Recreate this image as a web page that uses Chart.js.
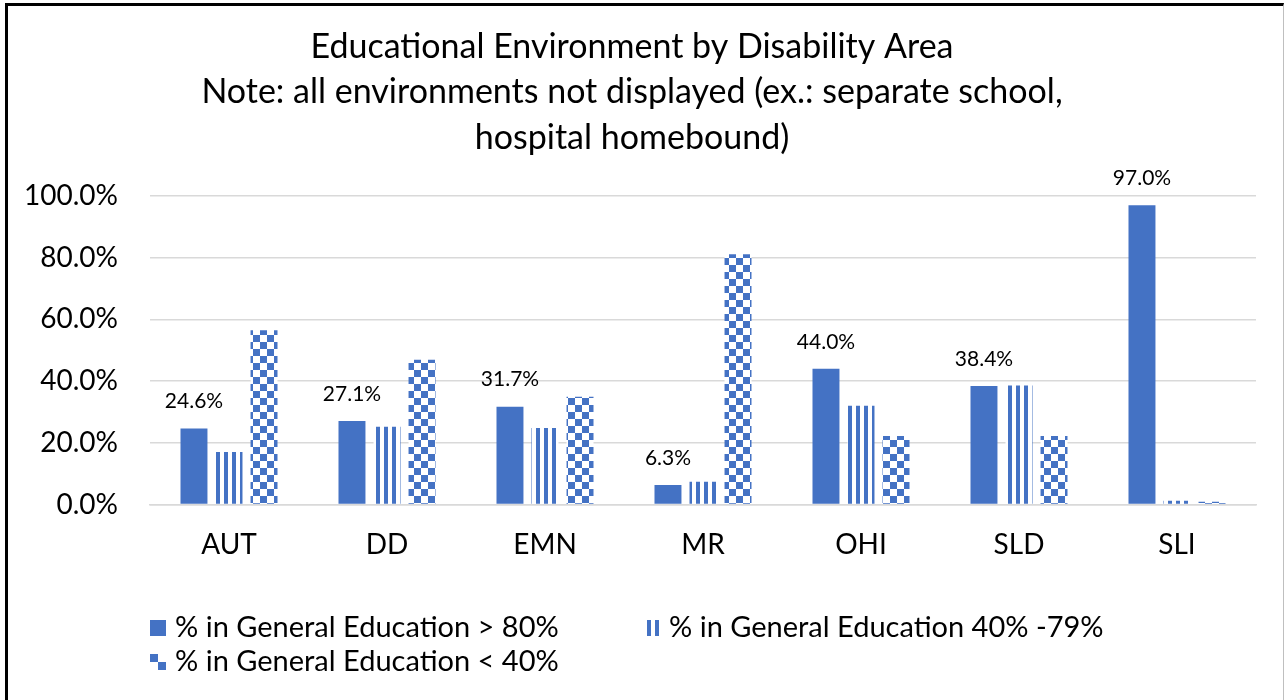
<!DOCTYPE html>
<html>
<head>
<meta charset="utf-8">
<script src="https://cdn.jsdelivr.net/npm/chart.js@4.4.1/dist/chart.umd.min.js"></script>
<style>
  html, body { margin: 0; padding: 0; background: #fff; overflow: hidden; }
  .chart-frame {
    position: absolute; left: 5px; top: 3px;
    width: 1275px; height: 720px;
    border-left: 3px solid #000; border-top: 3px solid #000; border-right: 1px solid #bfbfbf;
  }
  .chart-box { position: relative; width: 1275px; height: 694px; }
</style>
</head>
<body>
<div class="chart-frame">
  <div class="chart-box">
    <canvas id="envChart" aria-label="Educational Environment by Disability Area" role="img"></canvas>
  </div>
</div>
<script>
// data
const categories = ['AUT', 'DD', 'EMN', 'MR', 'OHI', 'SLD', 'SLI'];
const genEdOver80 = [24.6, 27.1, 31.7, 6.3, 44.0, 38.4, 97.0];
const genEd40to79 = [17.0, 25.2, 24.8, 7.4, 32.0, 38.6, 1.2];
const genEdUnder40 = [56.5, 46.9, 34.9, 81.1, 22.2, 22.2, 0.9];
const seriesNames = [
  '% in General Education > 80%',
  '% in General Education 40% -79%',
  '% in General Education < 40%'
];
const titleLines = [
  'Educational Environment by Disability Area',
  'Note: all environments not displayed (ex.: separate school,',
  'hospital homebound)'
];

const BLUE = '#4472C4';
const FONT = 'Lato, "Open Sans", sans-serif';

function stripePattern() {
  const c = document.createElement('canvas');
  c.width = 8; c.height = 8;
  const g = c.getContext('2d');
  g.fillStyle = '#fff'; g.fillRect(0, 0, 8, 8);
  g.fillStyle = BLUE; g.fillRect(0, 0, 4, 8);
  return g.createPattern(c, 'repeat');
}

function checkerPattern() {
  const c = document.createElement('canvas');
  c.width = 14; c.height = 14;
  const g = c.getContext('2d');
  g.fillStyle = '#fff'; g.fillRect(0, 0, 14, 14);
  g.fillStyle = BLUE;
  g.fillRect(0, 0, 7, 7);
  g.fillRect(7, 7, 7, 7);
  return g.createPattern(c, 'repeat');
}

const fmtPct = v => v.toFixed(1) + '%';

// value labels above the first series only
const valueLabels = {
  id: 'valueLabels',
  afterDatasetsDraw(chart) {
    const ctx = chart.ctx;
    const meta = chart.getDatasetMeta(0);
    ctx.save();
    ctx.font = '21px ' + FONT;
    ctx.fillStyle = '#000';
    ctx.textAlign = 'center';
    ctx.textBaseline = 'middle';
    meta.data.forEach((bar, i) => {
      ctx.fillText(fmtPct(genEdOver80[i]), bar.x, bar.y - 27);
    });
    ctx.restore();
  }
};

// Excel-style legend: two items on first row, third wraps, left aligned
const excelLegend = {
  id: 'excelLegend',
  afterDraw(chart) {
    const ctx = chart.ctx;
    const left = chart.chartArea.left;
    const rows = [
      { x: left, y: 622 },
      { x: left + 497, y: 622 },
      { x: left, y: 656 }
    ];
    ctx.save();
    ctx.font = '29px ' + FONT;
    ctx.textBaseline = 'middle';
    rows.forEach((pos, i) => {
      const top = pos.y - 8;
      ctx.fillStyle = BLUE;
      if (i === 0) {
        ctx.fillRect(pos.x, top, 16, 16);
      } else if (i === 1) {
        ctx.fillRect(pos.x, top, 4, 16);
        ctx.fillRect(pos.x + 8, top, 4, 16);
      } else {
        ctx.fillRect(pos.x, top, 8, 8);
        ctx.fillRect(pos.x + 8, top + 8, 8, 8);
      }
      ctx.fillStyle = '#000';
      ctx.fillText(seriesNames[i], pos.x + (i === 1 ? 22 : 25), pos.y);
    });
    ctx.restore();
  }
};

const ctx = document.getElementById('envChart').getContext('2d');
new Chart(ctx, {
  type: 'bar',
  data: {
    labels: categories,
    datasets: [
      { label: seriesNames[0], data: genEdOver80, backgroundColor: BLUE },
      { label: seriesNames[1], data: genEd40to79, backgroundColor: stripePattern() },
      { label: seriesNames[2], data: genEdUnder40, backgroundColor: checkerPattern() }
    ]
  },
  options: {
    responsive: true,
    maintainAspectRatio: false,
    animation: false,
    categoryPercentage: 0.665,
    barPercentage: 0.77,
    layout: { padding: { left: 0, right: 27, top: 0, bottom: 135.5 } },
    scales: {
      x: {
        afterFit(scale) { scale.height = 60; },
        grid: { display: false, drawTicks: false },
        border: { display: true, color: '#d9d9d9', width: 1.5 },
        ticks: { color: '#000', font: { family: FONT, size: 28 }, padding: 23.5 }
      },
      y: {
        min: 0,
        max: 100,
        afterFit(scale) { scale.width = 142; },
        grid: { color: '#d9d9d9', lineWidth: 1.5, drawTicks: false },
        border: { display: false },
        ticks: {
          stepSize: 20,
          color: '#000',
          font: { family: FONT, size: 28 },
          padding: 32,
          callback: v => fmtPct(v)
        }
      }
    },
    plugins: {
      legend: { display: false },
      tooltip: { enabled: false },
      title: {
        display: true,
        text: titleLines,
        color: '#000',
        font: { family: FONT, size: 34, weight: 'normal', lineHeight: 1.338 },
        padding: { top: 18.25, bottom: 35.25 }
      }
    }
  },
  plugins: [valueLabels, excelLegend]
});
</script>
</body>
</html>
